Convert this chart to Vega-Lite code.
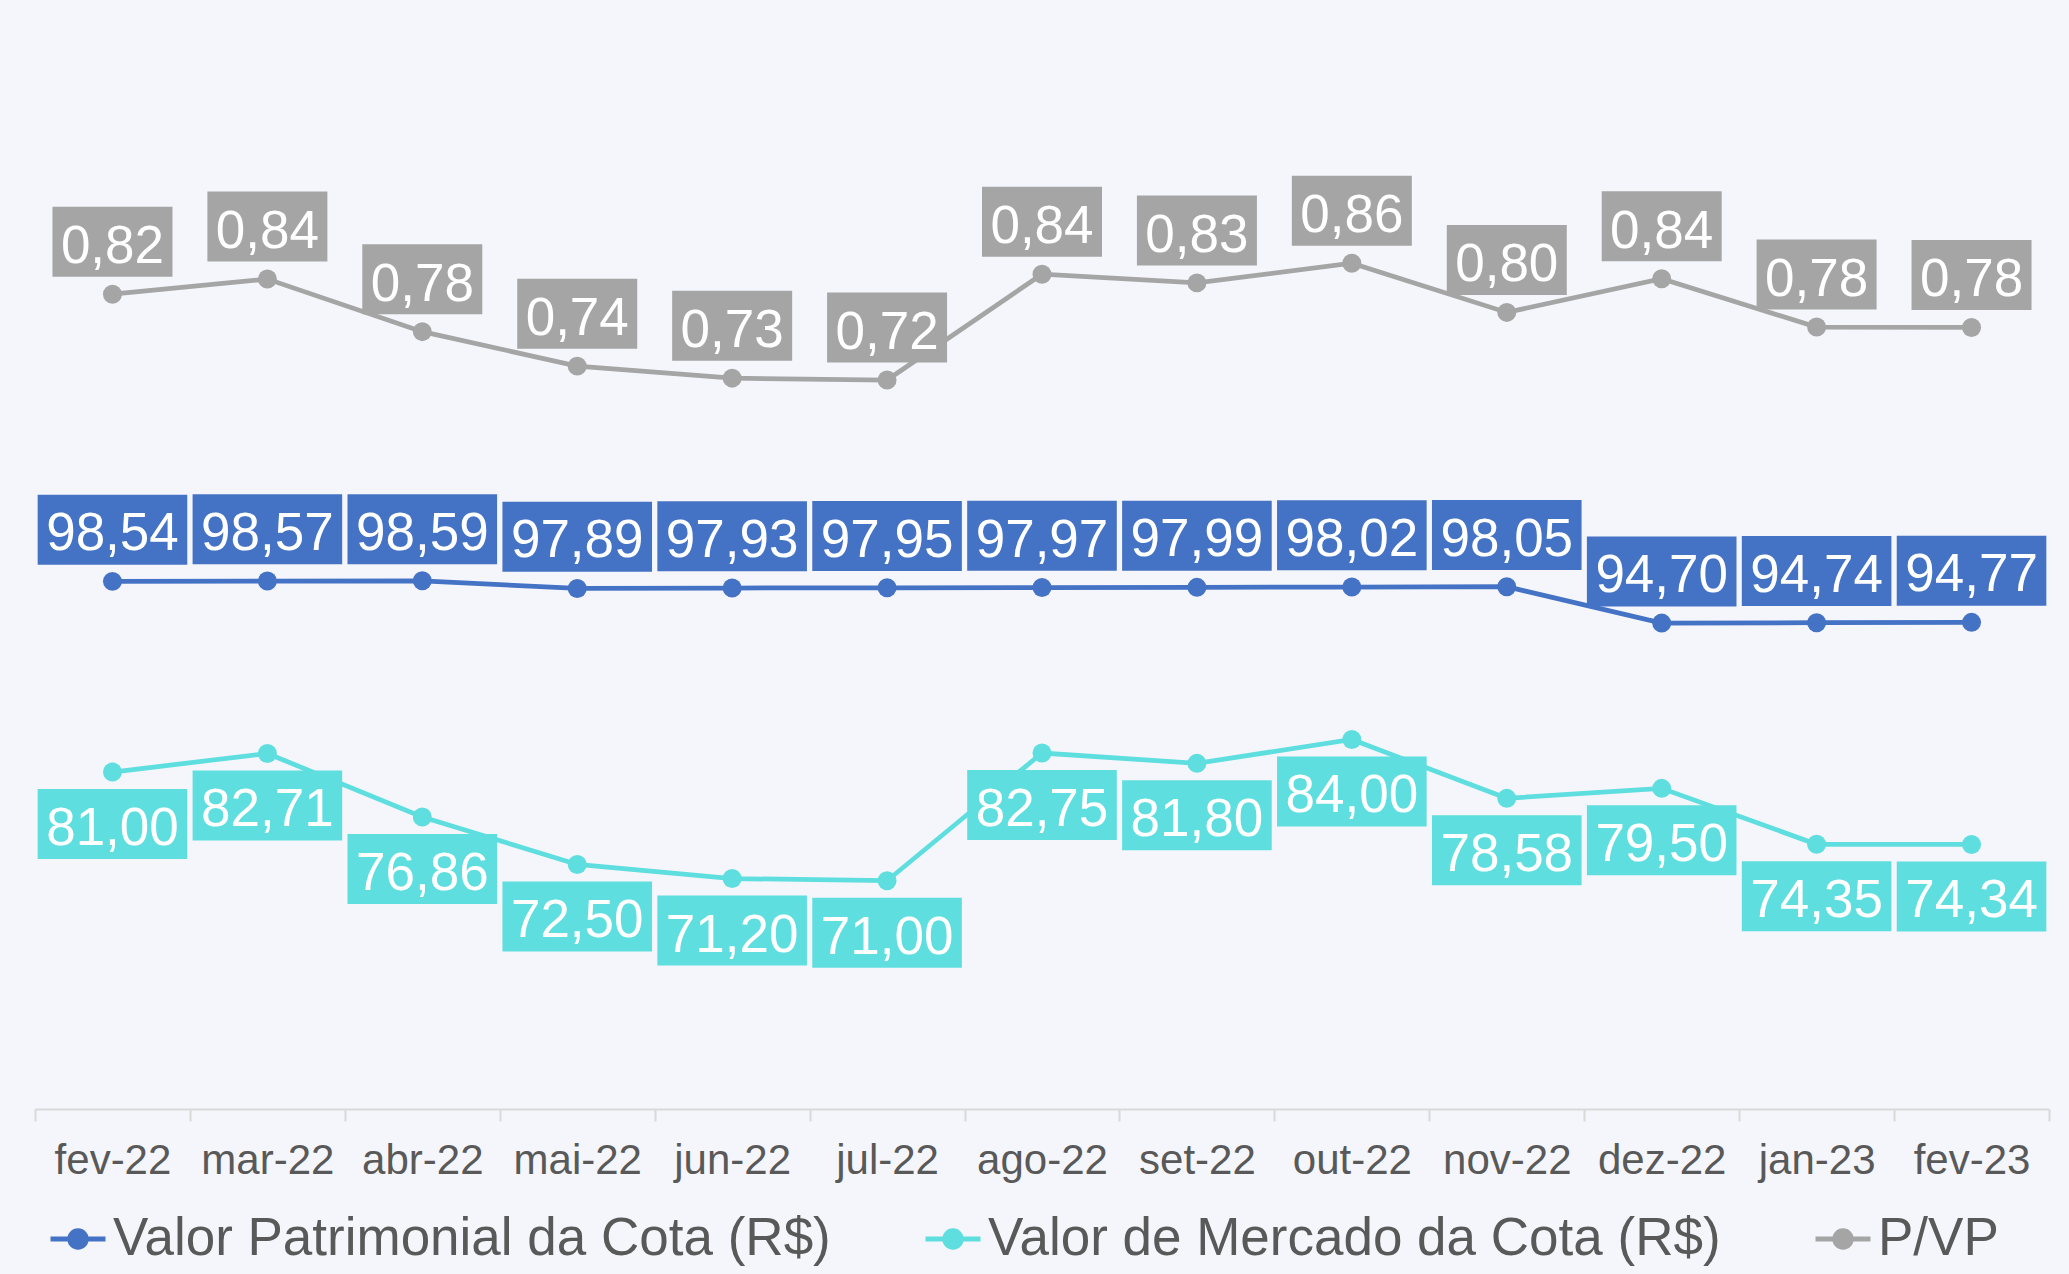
{
  "$schema": "https://vega.github.io/schema/vega-lite/v6.json",
  "width": 2014,
  "height": 1087,
  "autosize": {"type": "none"},
  "padding": {"left": 35, "top": 22, "right": 20, "bottom": 165},
  "background": "#F5F6FB",
  "config": {
    "font": "Liberation Sans",
    "view": {"stroke": null},
    "locale": {"number": {"decimal": ",", "thousands": ".", "grouping": [3], "currency": ["R$ ", ""]}},
    "legend": {
      "orient": "none",
      "legendX": 13,
      "legendY": 1187,
      "direction": "horizontal",
      "padding": 0,
      "symbolType": "M-1,0H1M0.3,0A0.3,0.3 0 1,1 -0.3,0A0.3,0.3 0 1,1 0.3,0Z",
      "symbolSize": 3025,
      "symbolStrokeWidth": 5,
      "labelFont": "Liberation Sans",
      "labelFontSize": 53,
      "labelColor": "#595959",
      "labelOffset": 5,
      "labelLimit": 0,
      "columnPadding": 84
    }
  },
  "data": {
    "values": [
      {"mes": "fev-22", "serie": "Valor Patrimonial da Cota (R$)", "valor": 98.54},
      {"mes": "mar-22", "serie": "Valor Patrimonial da Cota (R$)", "valor": 98.57},
      {"mes": "abr-22", "serie": "Valor Patrimonial da Cota (R$)", "valor": 98.59},
      {"mes": "mai-22", "serie": "Valor Patrimonial da Cota (R$)", "valor": 97.89},
      {"mes": "jun-22", "serie": "Valor Patrimonial da Cota (R$)", "valor": 97.93},
      {"mes": "jul-22", "serie": "Valor Patrimonial da Cota (R$)", "valor": 97.95},
      {"mes": "ago-22", "serie": "Valor Patrimonial da Cota (R$)", "valor": 97.97},
      {"mes": "set-22", "serie": "Valor Patrimonial da Cota (R$)", "valor": 97.99},
      {"mes": "out-22", "serie": "Valor Patrimonial da Cota (R$)", "valor": 98.02},
      {"mes": "nov-22", "serie": "Valor Patrimonial da Cota (R$)", "valor": 98.05},
      {"mes": "dez-22", "serie": "Valor Patrimonial da Cota (R$)", "valor": 94.70},
      {"mes": "jan-23", "serie": "Valor Patrimonial da Cota (R$)", "valor": 94.74},
      {"mes": "fev-23", "serie": "Valor Patrimonial da Cota (R$)", "valor": 94.77},
      {"mes": "fev-22", "serie": "Valor de Mercado da Cota (R$)", "valor": 81.00},
      {"mes": "mar-22", "serie": "Valor de Mercado da Cota (R$)", "valor": 82.71},
      {"mes": "abr-22", "serie": "Valor de Mercado da Cota (R$)", "valor": 76.86},
      {"mes": "mai-22", "serie": "Valor de Mercado da Cota (R$)", "valor": 72.50},
      {"mes": "jun-22", "serie": "Valor de Mercado da Cota (R$)", "valor": 71.20},
      {"mes": "jul-22", "serie": "Valor de Mercado da Cota (R$)", "valor": 71.00},
      {"mes": "ago-22", "serie": "Valor de Mercado da Cota (R$)", "valor": 82.75},
      {"mes": "set-22", "serie": "Valor de Mercado da Cota (R$)", "valor": 81.80},
      {"mes": "out-22", "serie": "Valor de Mercado da Cota (R$)", "valor": 84.00},
      {"mes": "nov-22", "serie": "Valor de Mercado da Cota (R$)", "valor": 78.58},
      {"mes": "dez-22", "serie": "Valor de Mercado da Cota (R$)", "valor": 79.50},
      {"mes": "jan-23", "serie": "Valor de Mercado da Cota (R$)", "valor": 74.35},
      {"mes": "fev-23", "serie": "Valor de Mercado da Cota (R$)", "valor": 74.34},
      {"mes": "fev-22", "serie": "P/VP", "valor": 0.8220},
      {"mes": "mar-22", "serie": "P/VP", "valor": 0.8391},
      {"mes": "abr-22", "serie": "P/VP", "valor": 0.7796},
      {"mes": "mai-22", "serie": "P/VP", "valor": 0.7406},
      {"mes": "jun-22", "serie": "P/VP", "valor": 0.7270},
      {"mes": "jul-22", "serie": "P/VP", "valor": 0.7249},
      {"mes": "ago-22", "serie": "P/VP", "valor": 0.8446},
      {"mes": "set-22", "serie": "P/VP", "valor": 0.8348},
      {"mes": "out-22", "serie": "P/VP", "valor": 0.8570},
      {"mes": "nov-22", "serie": "P/VP", "valor": 0.8014},
      {"mes": "dez-22", "serie": "P/VP", "valor": 0.8395},
      {"mes": "jan-23", "serie": "P/VP", "valor": 0.7848},
      {"mes": "fev-23", "serie": "P/VP", "valor": 0.7844}
    ]
  },
  "encoding": {
    "x": {
      "field": "mes",
      "type": "nominal",
      "sort": ["fev-22","mar-22","abr-22","mai-22","jun-22","jul-22","ago-22","set-22","out-22","nov-22","dez-22","jan-23","fev-23"],
      "scale": {"type": "band", "paddingInner": 0, "paddingOuter": 0},
      "axis": {
        "title": null,
        "labelAngle": 0,
        "labelFont": "Liberation Sans",
        "labelFontSize": 42,
        "labelColor": "#595959",
        "labelBaseline": "alphabetic",
        "labelPadding": 52,
        "tickBand": "extent",
        "tickSize": 12,
        "tickWidth": 2,
        "tickColor": "#D9D9D9",
        "domainColor": "#D9D9D9",
        "domainWidth": 2,
        "grid": false
      }
    }
  },
  "layer": [
    {
      "transform": [{"filter": "datum.serie !== 'P/VP'"}],
      "mark": {"type": "line", "strokeWidth": 4.75, "point": {"filled": true, "size": 360}},
      "encoding": {
        "y": {"field": "valor", "type": "quantitative", "scale": {"domain": [50, 150], "nice": false, "zero": false}, "axis": null},
        "color": {
          "field": "serie",
          "type": "nominal",
          "scale": {"domain": ["Valor Patrimonial da Cota (R$)", "Valor de Mercado da Cota (R$)", "P/VP"], "range": ["#4472C4", "#5FDEE0", "#A5A5A5"]},
          "legend": {
            "title": null,
            "encode": {"symbols": {"update": {"fill": {"scale": "color", "field": "value"}, "stroke": {"scale": "color", "field": "value"}, "strokeWidth": {"value": 5}}}}
          }
        }
      }
    },
    {
      "transform": [{"filter": "datum.serie === 'P/VP'"}],
      "mark": {"type": "line", "strokeWidth": 4.75, "point": {"filled": true, "size": 360}},
      "encoding": {
        "y": {"field": "valor", "type": "quantitative", "scale": {"domain": [-0.1, 1.13], "nice": false, "zero": false}, "axis": null},
        "color": {"field": "serie", "type": "nominal"}
      }
    },
    {
      "transform": [{"filter": "datum.serie !== 'P/VP'"}],
      "mark": {"type": "point", "filled": true, "opacity": 1, "strokeWidth": 0, "size": 40000},
      "encoding": {
        "y": {"field": "valor", "type": "quantitative", "scale": {"domain": [50, 150], "nice": false, "zero": false}, "axis": null},
        "color": {"field": "serie", "type": "nominal", "legend": null},
        "shape": {
          "field": "serie",
          "type": "nominal",
          "legend": null,
          "scale": {
            "domain": ["Valor Patrimonial da Cota (R$)", "Valor de Mercado da Cota (R$)"],
            "range": ["M-0.748,-0.867H0.748V-0.167H-0.748Z", "M-0.748,0.17H0.748V0.87H-0.748Z"]
          }
        }
      }
    },
    {
      "transform": [{"filter": "datum.serie === 'P/VP'"}],
      "mark": {"type": "point", "filled": true, "opacity": 1, "strokeWidth": 0, "size": 40000, "shape": "M-0.6,-0.875H0.6V-0.175H-0.6Z"},
      "encoding": {
        "y": {"field": "valor", "type": "quantitative", "scale": {"domain": [-0.1, 1.13], "nice": false, "zero": false}, "axis": null},
        "color": {"field": "serie", "type": "nominal", "legend": null}
      }
    },
    {
      "transform": [{"filter": "datum.serie === 'Valor Patrimonial da Cota (R$)'"}],
      "mark": {"type": "text", "font": "Liberation Sans", "fontSize": 53, "color": "#FFFFFF", "align": "center", "baseline": "alphabetic", "dy": -31},
      "encoding": {
        "y": {"field": "valor", "type": "quantitative", "scale": {"domain": [50, 150], "nice": false, "zero": false}, "axis": null},
        "text": {"field": "valor", "type": "quantitative", "format": ".2f"}
      }
    },
    {
      "transform": [{"filter": "datum.serie === 'Valor de Mercado da Cota (R$)'"}],
      "mark": {"type": "text", "font": "Liberation Sans", "fontSize": 53, "color": "#FFFFFF", "align": "center", "baseline": "alphabetic", "dy": 73},
      "encoding": {
        "y": {"field": "valor", "type": "quantitative", "scale": {"domain": [50, 150], "nice": false, "zero": false}, "axis": null},
        "text": {"field": "valor", "type": "quantitative", "format": ".2f"}
      }
    },
    {
      "transform": [{"filter": "datum.serie === 'P/VP'"}],
      "mark": {"type": "text", "font": "Liberation Sans", "fontSize": 53, "color": "#FFFFFF", "align": "center", "baseline": "alphabetic", "dy": -31},
      "encoding": {
        "y": {"field": "valor", "type": "quantitative", "scale": {"domain": [-0.1, 1.13], "nice": false, "zero": false}, "axis": null},
        "text": {"field": "valor", "type": "quantitative", "format": ".2f"}
      }
    }
  ],
  "resolve": {"scale": {"y": "independent"}}
}
